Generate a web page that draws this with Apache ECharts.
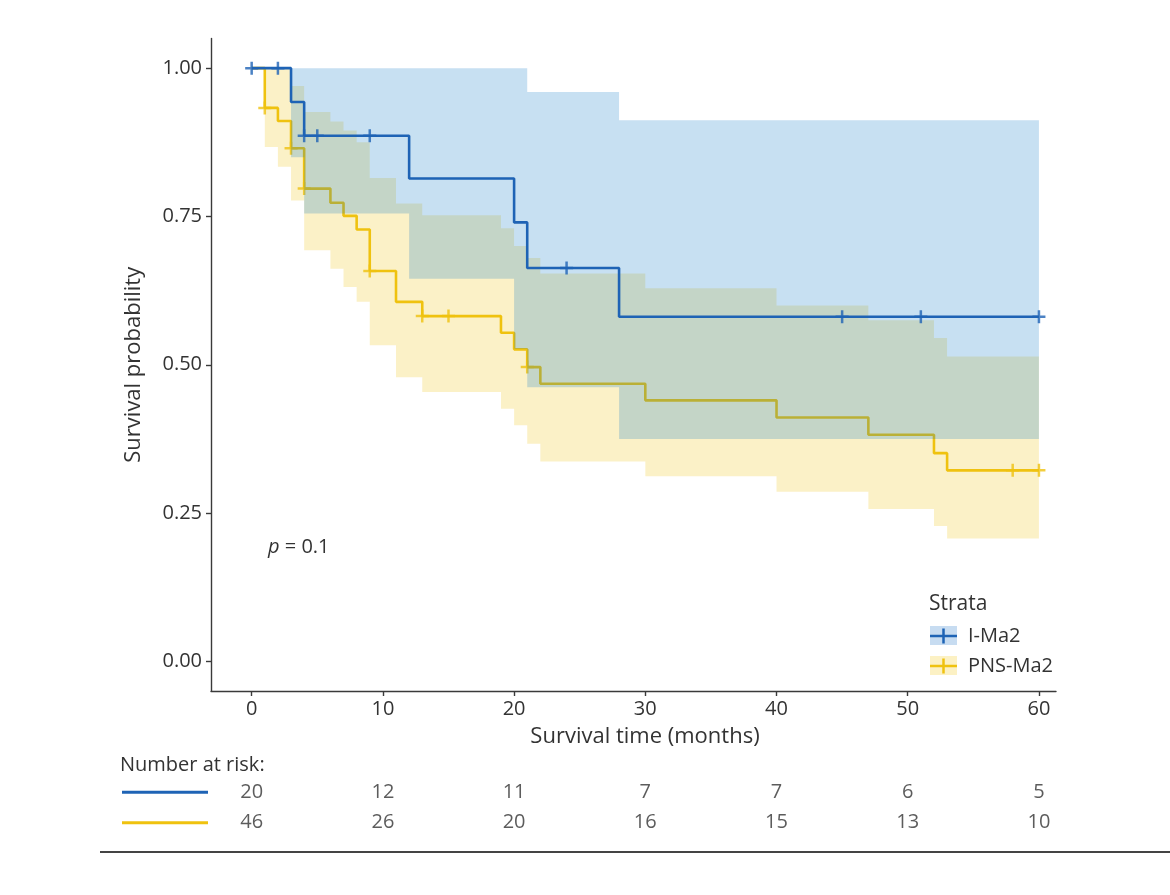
<!DOCTYPE html>
<html>
<head>
<meta charset="utf-8">
<script src="https://cdn.jsdelivr.net/npm/echarts@6/dist/echarts.min.js"></script>
<style>
  html, body { margin: 0; padding: 0; background: #fff; }
  #chart { width: 1170px; height: 895px; }
</style>
</head>
<body>
<div id="chart"></div>
<script>
// Kaplan-Meier curves (time in months, survival prob).
const imaTime  = [0, 3, 4, 12, 20, 21, 28, 60];
const imaSurv  = [1.0, 0.943, 0.886, 0.814, 0.740, 0.663, 0.581, 0.581];
const imaUpper = [1.0, 1.0, 1.0, 1.0, 1.0, 0.960, 0.912, 0.912];
const imaLower = [1.0, 0.850, 0.755, 0.645, 0.527, 0.462, 0.375, 0.375];
const imaCensor = [0, 2, 4, 5, 9, 24, 45, 51, 60];

const pnsTime  = [0, 1, 2, 3, 4, 6, 7, 8, 9, 11, 13, 19, 20, 21, 22, 30, 40, 47, 52, 53, 60];
const pnsSurv  = [1.0, 0.933, 0.911, 0.865, 0.797, 0.773, 0.751, 0.728, 0.658, 0.606, 0.582, 0.554, 0.526, 0.496, 0.468, 0.440, 0.411, 0.382, 0.351, 0.322, 0.322];
const pnsUpper = [1.0, 1.0, 1.0, 0.970, 0.926, 0.910, 0.895, 0.875, 0.815, 0.772, 0.752, 0.730, 0.700, 0.680, 0.654, 0.629, 0.600, 0.575, 0.545, 0.514, 0.514];
const pnsLower = [1.0, 0.867, 0.834, 0.777, 0.693, 0.662, 0.631, 0.606, 0.533, 0.479, 0.454, 0.426, 0.398, 0.367, 0.337, 0.312, 0.286, 0.257, 0.228, 0.207, 0.207];
const pnsCensor = [1, 3, 4, 9, 13, 15, 21, 58, 60];

// number-at-risk table
const riskTimes = [0, 10, 20, 30, 40, 50, 60];
const riskIMa2 = [20, 12, 11, 7, 7, 6, 5];
const riskPNS  = [46, 26, 20, 16, 15, 13, 10];

const xTicks = [0, 10, 20, 30, 40, 50, 60];
const yTicks = [0, 0.25, 0.5, 0.75, 1];
const strata = ['I-Ma2', 'PNS-Ma2'];

const BLUE = '#1e63b5', YELLOW = '#efc20f';
const BLUE_BAND = 'rgba(0,115,194,0.22)', YELLOW_BAND = 'rgba(239,192,0,0.22)';
const FONT = 'Open Sans';
const TXT = '#333';
const AXIS = '#3a3a3a';
const PLUS = 'path://M0,5.25h13v2.5h-13z M5.25,0h2.5v13h-2.5z';

// survival value in force at time t (right-continuous step)
const stepAt = (times, vals, t) => {
  let v = vals[0];
  for (let i = 0; i < times.length; i++) if (times[i] <= t) v = vals[i];
  return v;
};

// confidence ribbon as one stepped polygon, mapped through the axes
function band(times, lo, hi, fill, z) {
  return {
    type: 'custom', z, silent: true, data: [[times[0], lo[0]]],
    renderItem: (params, api) => {
      const pts = [];
      for (let i = 0; i < times.length - 1; i++) { pts.push([times[i], hi[i]], [times[i + 1], hi[i]]); }
      for (let i = times.length - 2; i >= 0; i--) { pts.push([times[i + 1], lo[i]], [times[i], lo[i]]); }
      return { type: 'polygon', shape: { points: pts.map((p) => api.coord(p)) }, style: { fill } };
    },
  };
}

const curve = (name, times, surv, color, z) => ({
  type: 'line', name, step: 'end', z, symbol: 'none', silent: true,
  data: times.map((t, i) => [t, surv[i]]),
  lineStyle: { color, width: 2.6 }, itemStyle: { color },
});

const censors = (times, surv, pts, color, z) => ({
  type: 'scatter', z, silent: true, symbol: PLUS, symbolSize: 13,
  data: pts.map((t) => [t, stepAt(times, surv, t)]),
  itemStyle: { color },
});

const riskRow = (name, counts) => ({
  type: 'scatter', xAxisIndex: 1, yAxisIndex: 1, silent: true, symbolSize: 1,
  itemStyle: { color: 'transparent' },
  data: riskTimes.map((t, i) => [t, name, counts[i]]),
  label: { show: true, position: 'inside', formatter: (p) => String(p.value[2]), fontSize: 20, color: TXT, fontFamily: FONT },
});

const X_MIN = -3.1, X_MAX = 61.3;
const chart = echarts.init(document.getElementById('chart'));
chart.setOption({
  animation: false,
  textStyle: { fontFamily: FONT },
  title: [
    { text: 'Strata', left: 929, top: 594, padding: 0, textStyle: { fontSize: 21, fontWeight: 'normal', color: TXT, fontFamily: FONT } },
    { text: 'Number at risk:', left: 120, top: 755, padding: 0, textStyle: { fontSize: 20, fontWeight: 'normal', color: TXT, fontFamily: FONT } },
    { text: '{i|p} = 0.1', left: 268, top: 537, padding: 0,
      textStyle: { fontSize: 20, fontWeight: 'normal', color: TXT, fontFamily: FONT,
        rich: { i: { fontStyle: 'italic', fontSize: 20, color: TXT, fontFamily: FONT } } } },
  ],
  legend: {
    orient: 'vertical', left: 930, top: 626, padding: 0, itemGap: 10,
    itemWidth: 27, itemHeight: 19, icon: 'path://M0,8.25h27v2.5h-27z M12.25,2h2.5v15h-2.5z',
    itemStyle: { borderWidth: 0 }, selectedMode: false, data: strata,
    textStyle: { fontSize: 20, color: TXT, fontFamily: FONT, padding: [0, 0, 0, 6] },
  },
  grid: [
    { left: 211, right: 114, top: 38.5, bottom: 204 },
    { left: 211, right: 114, top: 777, height: 61 },
  ],
  xAxis: [
    {
      type: 'value', min: X_MIN, max: X_MAX, gridIndex: 0,
      name: 'Survival time (months)', nameLocation: 'middle', nameGap: 35,
      nameTextStyle: { fontSize: 22, color: TXT, fontFamily: FONT, padding: [0, 0, 0, 23] },
      splitLine: { show: false },
      axisLine: { onZero: false, lineStyle: { color: AXIS, width: 1.4 } },
      axisTick: { customValues: xTicks, length: 5, lineStyle: { color: AXIS, width: 1.4 } },
      axisLabel: { customValues: xTicks, margin: 8, fontSize: 20, color: TXT, fontFamily: FONT },
    },
    { type: 'value', min: X_MIN, max: X_MAX, gridIndex: 1, show: false },
  ],
  yAxis: [
    {
      type: 'value', min: -0.05, max: 1.05, gridIndex: 0,
      name: 'Survival probability', nameLocation: 'middle', nameGap: 66,
      nameTextStyle: { fontSize: 22, color: TXT, fontFamily: FONT },
      splitLine: { show: false },
      axisLine: { show: true, onZero: false, lineStyle: { color: AXIS, width: 1.4 } },
      axisTick: { show: true, customValues: yTicks, length: 5, lineStyle: { color: AXIS, width: 1.4 } },
      axisLabel: { customValues: yTicks, margin: 9, fontSize: 20, color: TXT, fontFamily: FONT, formatter: (v) => v.toFixed(2) },
    },
    {
      type: 'category', gridIndex: 1, data: strata, inverse: true,
      axisLine: { show: false }, axisTick: { show: false }, splitLine: { show: false },
      axisLabel: {
        margin: 3,
        formatter: (v) => (v === 'I-Ma2' ? '{b| }' : '{y| }'),
        rich: {
          b: { width: 86, height: 3, lineHeight: 3, backgroundColor: BLUE },
          y: { width: 86, height: 3, lineHeight: 3, backgroundColor: YELLOW },
        },
      },
    },
  ],
  graphic: [
    { type: 'rect', shape: { x: 930, y: 626, width: 27, height: 19 }, style: { fill: '#c7dcf1' }, z: 0 },
    { type: 'rect', shape: { x: 930, y: 656, width: 27, height: 19 }, style: { fill: '#fcf1c4' }, z: 0 },
    { type: 'line', shape: { x1: 100, y1: 852, x2: 1170, y2: 852 }, style: { stroke: '#444', lineWidth: 2 } },
  ],
  series: [
    band(pnsTime, pnsLower, pnsUpper, YELLOW_BAND, 1),
    curve('PNS-Ma2', pnsTime, pnsSurv, YELLOW, 2),
    censors(pnsTime, pnsSurv, pnsCensor, YELLOW, 2),
    band(imaTime, imaLower, imaUpper, BLUE_BAND, 3),
    curve('I-Ma2', imaTime, imaSurv, BLUE, 4),
    censors(imaTime, imaSurv, imaCensor, BLUE, 4),
    riskRow('I-Ma2', riskIMa2),
    riskRow('PNS-Ma2', riskPNS),
  ],
});
</script>
</body>
</html>
